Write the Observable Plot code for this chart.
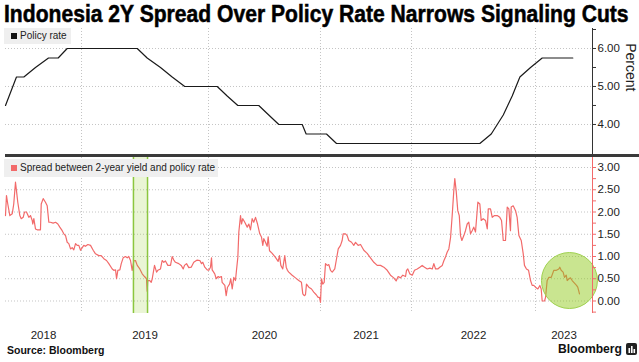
<!DOCTYPE html>
<html><head><meta charset="utf-8">
<script src="https://cdn.jsdelivr.net/npm/d3@7"></script>
<script src="https://cdn.jsdelivr.net/npm/@observablehq/plot@0.6"></script>
<style>
body{margin:0;background:#fff;}
#c{position:relative;width:639px;height:362px;overflow:hidden;font-family:"Liberation Sans",Arial,sans-serif;}
#c > *{position:absolute;display:block;}
.leg{background:#efefef;font-size:10px;color:#222;white-space:nowrap;box-sizing:border-box;line-height:1;}
.sw{display:inline-block;width:6px;height:6px;margin:0 3px 0 0;vertical-align:0px;}
</style></head><body><div id="c"></div>
<script>
// ---------- data ----------
const policyYear = [2018.300, 2018.401, 2018.469, 2018.576, 2018.696, 2018.785, 2018.868, 2019.439, 2019.517, 2019.622, 2019.714, 2019.813, 2020.078, 2020.167, 2020.262, 2020.449, 2020.538, 2020.628, 2020.837, 2020.872, 2021.066, 2021.176, 2022.551, 2022.643, 2022.740, 2022.812, 2022.874, 2022.960, 2023.054, 2023.301];
const policyRate = [4.5, 5.25, 5.25, 5.5, 5.75, 5.75, 6.0, 6.0, 5.75, 5.5, 5.25, 5.0, 5.0, 4.75, 4.5, 4.5, 4.25, 4.0, 4.0, 3.75, 3.75, 3.5, 3.5, 3.75, 4.25, 4.75, 5.25, 5.5, 5.75, 5.75];

const spreadYear = [
2018.300,2018.309,2018.321,2018.340,2018.362,2018.376,2018.392,2018.401,2018.413,2018.432,2018.445,2018.463,2018.475,2018.493,2018.515,2018.530,2018.546,2018.551,2018.561,2018.576,2018.592,2018.622,2018.629,2018.647,2018.668,2018.684,2018.699,2018.714,2018.739,2018.761,2018.782,2018.800,2018.822,2018.837,2018.853,2018.868,2018.883,2018.899,2018.914,2018.929,2018.945,2018.960,2018.975,2018.991,
2019.006,2019.018,2019.031,2019.050,2019.071,2019.092,2019.110,2019.136,2019.155,2019.176,2019.197,2019.215,2019.242,2019.254,2019.268,2019.276,2019.286,2019.302,2019.313,2019.328,2019.346,2019.360,2019.372,2019.386,2019.399,2019.412,2019.425,2019.439,2019.459,2019.478,2019.496,2019.512,2019.517,2019.522,2019.538,2019.549,2019.557,2019.575,2019.591,2019.601,2019.622,2019.635,2019.648,2019.661,2019.680,2019.701,2019.714,2019.727,2019.740,2019.766,2019.785,2019.801,2019.811,2019.827,2019.845,2019.864,2019.884,2019.911,2019.932,2019.945,2019.955,2019.971,2019.990,
2020.003,2020.018,2020.027,2020.033,2020.056,2020.069,2020.087,2020.098,2020.116,2020.122,2020.146,2020.158,2020.170,2020.188,2020.199,2020.212,2020.226,2020.241,2020.250,2020.262,2020.271,2020.286,2020.295,2020.306,2020.324,2020.346,2020.360,2020.375,2020.390,2020.404,2020.420,2020.438,2020.458,2020.473,2020.485,2020.494,2020.509,2020.524,2020.533,2020.545,2020.569,2020.598,2020.622,2020.634,2020.646,2020.663,2020.681,2020.694,2020.705,2020.717,2020.747,2020.777,2020.806,2020.830,2020.842,2020.855,2020.866,2020.875,2020.896,2020.920,2020.940,2020.962,2020.979,2020.991,
2021.000,2021.011,2021.025,2021.041,2021.055,2021.074,2021.091,2021.110,2021.129,2021.157,2021.173,2021.195,2021.220,2021.238,2021.249,2021.275,2021.293,2021.311,2021.341,2021.366,2021.385,2021.414,2021.440,2021.476,2021.513,2021.549,2021.586,2021.623,2021.659,2021.696,2021.733,2021.769,2021.805,2021.831,2021.853,2021.879,2021.904,2021.934,2021.945,2021.959,2021.981,
2022.006,2022.024,2022.046,2022.067,2022.086,2022.105,2022.127,2022.148,2022.167,2022.180,2022.194,2022.212,2022.228,2022.248,2022.260,2022.274,2022.288,2022.301,2022.315,2022.328,2022.341,2022.349,2022.360,2022.373,2022.385,2022.395,2022.406,2022.422,2022.435,2022.449,2022.462,2022.476,2022.489,2022.502,2022.516,2022.535,2022.551,2022.562,2022.578,2022.597,2022.611,2022.619,2022.637,2022.651,2022.669,2022.691,2022.712,2022.726,2022.740,2022.758,2022.772,2022.785,2022.798,2022.804,2022.820,2022.839,2022.852,2022.866,2022.885,2022.901,2022.911,2022.927,2022.944,2022.960,2022.973,2022.986,
2023.000,2023.019,2023.035,2023.046,2023.054,2023.073,2023.081,2023.094,2023.107,2023.127,2023.148,2023.169,2023.188,2023.196,2023.207,2023.223,2023.234,2023.248,2023.256,2023.269,2023.282,2023.296,2023.309,2023.331,2023.341,2023.355];
const spreadValue = [
1.92,2.37,2.18,1.92,1.96,2.18,2.67,2.48,2.22,1.92,1.85,1.88,2.00,2.00,1.88,1.92,1.81,1.73,1.85,1.62,1.60,1.60,2.18,2.30,2.22,2.14,1.77,1.77,1.75,1.77,1.73,1.66,1.58,1.51,1.47,1.32,1.29,1.17,1.20,1.15,1.29,1.25,1.25,1.14,
1.20,1.25,1.23,1.27,1.25,1.14,1.06,1.02,1.02,0.95,0.91,0.84,0.72,0.69,0.70,0.50,0.69,0.70,0.84,0.97,1.00,0.97,1.00,0.91,0.69,0.90,0.91,0.80,0.72,0.61,0.55,0.50,0.22,0.46,0.46,0.42,0.50,0.80,0.65,0.69,0.72,0.91,0.87,0.90,0.80,0.80,1.00,0.92,0.87,0.84,0.80,0.72,0.80,0.84,0.75,0.76,0.87,0.92,0.91,0.84,0.87,0.76,0.70,
0.69,0.76,0.97,0.70,0.61,0.50,0.55,0.53,0.55,0.42,0.35,0.12,0.31,0.38,0.50,0.27,0.53,0.46,0.69,0.98,1.55,1.92,1.73,1.85,1.77,1.66,1.73,1.60,1.85,1.77,1.88,1.73,1.51,1.44,1.25,1.40,1.32,1.23,1.44,1.13,1.07,0.98,0.89,1.02,0.80,0.72,1.02,0.76,0.69,0.65,0.58,0.52,0.46,0.42,0.16,0.12,0.14,0.38,0.31,0.27,0.20,0.14,0.08,0.08,
-0.03,0.50,0.38,0.42,0.84,0.80,0.82,0.69,0.65,0.72,0.91,1.17,1.25,1.36,1.51,1.51,1.47,1.36,1.32,1.25,1.32,1.25,1.27,1.14,1.07,0.97,0.87,0.80,0.80,0.76,0.69,0.58,0.52,0.45,0.55,0.52,0.58,0.55,0.69,0.72,0.61,
0.58,0.69,0.72,0.76,0.80,0.76,0.72,0.74,0.72,0.84,0.72,0.72,0.76,0.80,0.90,0.99,1.10,1.17,1.43,1.92,2.48,2.75,2.48,2.03,1.92,1.47,1.36,1.47,1.58,1.73,1.77,1.51,1.58,1.66,1.55,2.22,2.18,1.81,1.85,1.81,1.62,2.07,2.07,1.88,1.92,1.92,1.88,1.81,1.36,1.36,2.11,2.07,1.58,2.11,2.14,2.03,1.88,1.47,1.36,1.06,0.80,0.72,0.69,0.46,0.35,0.35,
0.31,0.27,0.35,0.27,0.00,0.00,0.08,0.46,0.53,0.53,0.69,0.69,0.72,0.76,0.69,0.65,0.53,0.58,0.46,0.50,0.52,0.46,0.42,0.35,0.31,0.16];

const yearStarts = [2019, 2020, 2021, 2022, 2023];
const yearLabels = ["2018", "2019", "2020", "2021", "2022", "2023"];
const topTicks = [4, 5, 6];
const topMinorTicks = [4.5, 5.5, 6.5];
const bottomTicks = [0, 0.5, 1, 1.5, 2, 2.5, 3];
const bottomMinorTicks = [-0.25, 0, 0.25, 0.5, 0.75, 1, 1.25, 1.5, 1.75, 2, 2.25, 2.5, 2.75, 3];
const highlightBand = [2019.409, 2019.520];
const highlightCircle = [{year: 2023.274, value: 0.46}];

const titleText = "Indonesia 2Y Spread Over Policy Rate Narrows Signaling Cuts";
const policyLabel = "Policy rate";
const spreadLabel = "Spread between 2-year yield and policy rate";
const unitLabel = "Percent";
const sourceText = "Source: Bloomberg";
const brandText = "Bloomberg";

// ---------- build ----------
const policy = policyYear.map((y, i) => ({year: y, rate: policyRate[i]}));
const spread = spreadYear.map((y, i) => ({year: y, value: spreadValue[i]}));

// The reference's year boundaries are unevenly spaced: map years to a
// fraction of the axis piecewise (used as the x scale's transform).
const xDomain = [2018.3, 2019, 2020, 2021, 2022, 2023, 2023.46];
const xFrac = [0, 0.1295, 0.3458, 0.5366, 0.6917, 0.9029, 1];
const yearToFrac = d3.scaleLinear().domain(xDomain).range(xFrac);
const xEnd = xDomain[xDomain.length - 1];
const labelPos = yearLabels.map(l => {
  const a = Math.max(+l, xDomain[0]), b = Math.min(+l + 1, xEnd);
  return {label: l, pos: (a + b) / 2};
});
const xScale = {type: "linear", transform: yearToFrac, domain: [0, 1], axis: null};

const FONT = '"Liberation Sans", Arial, sans-serif';
const GRID = {stroke: "#c4c4c4", strokeDasharray: "1,2", strokeWidth: 1};
const RED = "#f26a6a";
const styleBase = {fontFamily: FONT, fontSize: "11.5px", color: "#222", background: "transparent", overflow: "visible"};

const root = document.getElementById("c");
const NS = "http://www.w3.org/2000/svg";

// Title (condensed horizontally to the reference's width)
const tsvg = document.createElementNS(NS, "svg");
tsvg.setAttribute("width", 639); tsvg.setAttribute("height", 28);
tsvg.style.left = "0px"; tsvg.style.top = "0px";
const tg = document.createElementNS(NS, "g");
const tt = document.createElementNS(NS, "text");
tt.setAttribute("x", 0); tt.setAttribute("y", 22);
tt.setAttribute("font-family", FONT); tt.setAttribute("font-weight", "700");
tt.setAttribute("font-size", "23"); tt.setAttribute("fill", "#000");
tt.setAttribute("stroke", "#000"); tt.setAttribute("stroke-width", "0.5");
tt.textContent = titleText;
tg.appendChild(tt);
tsvg.appendChild(tg);
root.appendChild(tsvg);
const natural = tt.getComputedTextLength() || 700;
tg.setAttribute("transform", `translate(4,0) scale(${(625 / natural).toFixed(4)},1)`);

// Top panel
const topPlot = Plot.plot({
  width: 639, height: 126,
  marginLeft: 5, marginRight: 47, marginTop: 0, marginBottom: 0,
  x: xScale,
  y: {domain: [3.21, 6.526], axis: null},
  style: styleBase,
  marks: [
    Plot.ruleY(topTicks, GRID),
    Plot.ruleX(yearStarts, GRID),
    Plot.line(policy, {x: "year", y: "rate", stroke: "#1a1a1a", strokeWidth: 1.2}),
    Plot.ruleX([xEnd], {stroke: "#333", strokeWidth: 1}),
    Plot.axisY(topMinorTicks, {anchor: "right", label: null, tickSize: 3, tickFormat: () => "", stroke: "#333"}),
    Plot.axisY(topTicks, {anchor: "right", label: null, tickSize: 3, tickPadding: 2, tickFormat: d => d.toFixed(2), stroke: "#333", fill: "#222"}),
    Plot.text([unitLabel], {text: d => d, frameAnchor: "right", dx: 38, rotate: 90, fontSize: 14, fill: "#222"})
  ]
});
topPlot.style.left = "0px"; topPlot.style.top = "28px";
root.appendChild(topPlot);

// Separator
const sep = document.createElement("div");
sep.style.cssText = "left:5px;top:154px;width:634px;height:3px;background:#3a3a3a;";
root.appendChild(sep);

// Bottom panel
const bottomPlot = Plot.plot({
  width: 639, height: 185,
  marginLeft: 5, marginRight: 47, marginTop: 0, marginBottom: 29,
  x: xScale,
  y: {domain: [-0.281, 3.225], axis: null},
  style: styleBase,
  marks: [
    Plot.ruleY(bottomTicks, GRID),
    Plot.ruleX(yearStarts, GRID),
    Plot.line(spread, {x: "year", y: "value", stroke: RED, strokeWidth: 1.2}),
    Plot.rect([highlightBand], {x1: d => d[0], x2: d => d[1], fill: "rgb(140,200,20)", fillOpacity: 0.18}),
    Plot.ruleX(highlightBand, {stroke: "#8cc63f", strokeWidth: 1.5}),
    Plot.dot(highlightCircle, {x: "year", y: "value", r: 28, fill: "rgb(140,200,20)", fillOpacity: 0.47, stroke: "#9fd14f", strokeWidth: 1}),
    Plot.ruleX([xEnd], {stroke: RED, strokeWidth: 1}),
    Plot.axisY(bottomMinorTicks, {anchor: "right", label: null, tickSize: 3, tickFormat: () => "", stroke: RED}),
    Plot.axisY(bottomTicks, {anchor: "right", label: null, tickSize: 0, tickPadding: 5, tickFormat: d => d.toFixed(2), fill: "#222"}),
    Plot.text(labelPos, {x: "pos", text: "label", frameAnchor: "bottom", dy: 22, lineAnchor: "middle", fontSize: 11.5, fill: "#222"})
  ]
});
bottomPlot.style.left = "0px"; bottomPlot.style.top = "157px";
root.appendChild(bottomPlot);

// Legends (inside the panels)
const leg1 = document.createElement("div");
leg1.className = "leg";
leg1.style.cssText += "left:4px;top:28px;width:67px;height:16px;padding:3px 0 0 7px;";
leg1.innerHTML = `<span class="sw" style="background:#111"></span>${policyLabel}`;
root.appendChild(leg1);

const leg2 = document.createElement("div");
leg2.className = "leg";
leg2.style.cssText += "left:4px;top:159px;width:214px;height:18px;padding:4px 0 0 7px;";
leg2.innerHTML = `<span class="sw" style="background:${RED}"></span>${spreadLabel}`;
root.appendChild(leg2);

// Footer
const fsvg = document.createElementNS(NS, "svg");
fsvg.setAttribute("width", 639); fsvg.setAttribute("height", 22);
fsvg.style.left = "0px"; fsvg.style.top = "340px";
fsvg.innerHTML = `
<text x="7" y="13.5" font-family='${FONT}' font-weight="700" font-size="10.5" fill="#111">${sourceText}</text>
<text x="558" y="13" font-family='${FONT}' font-weight="700" font-size="13.5" fill="#111" textLength="64" lengthAdjust="spacingAndGlyphs">${brandText}</text>
<rect x="626" y="3" width="11" height="12" rx="2" fill="#222"></rect>
<rect x="628.5" y="8" width="1.6" height="5" fill="#fff"></rect>
<rect x="631" y="6" width="1.6" height="7" fill="#fff"></rect>
<rect x="633.5" y="9" width="1.6" height="4" fill="#fff"></rect>`;
root.appendChild(fsvg);
</script></body></html>
